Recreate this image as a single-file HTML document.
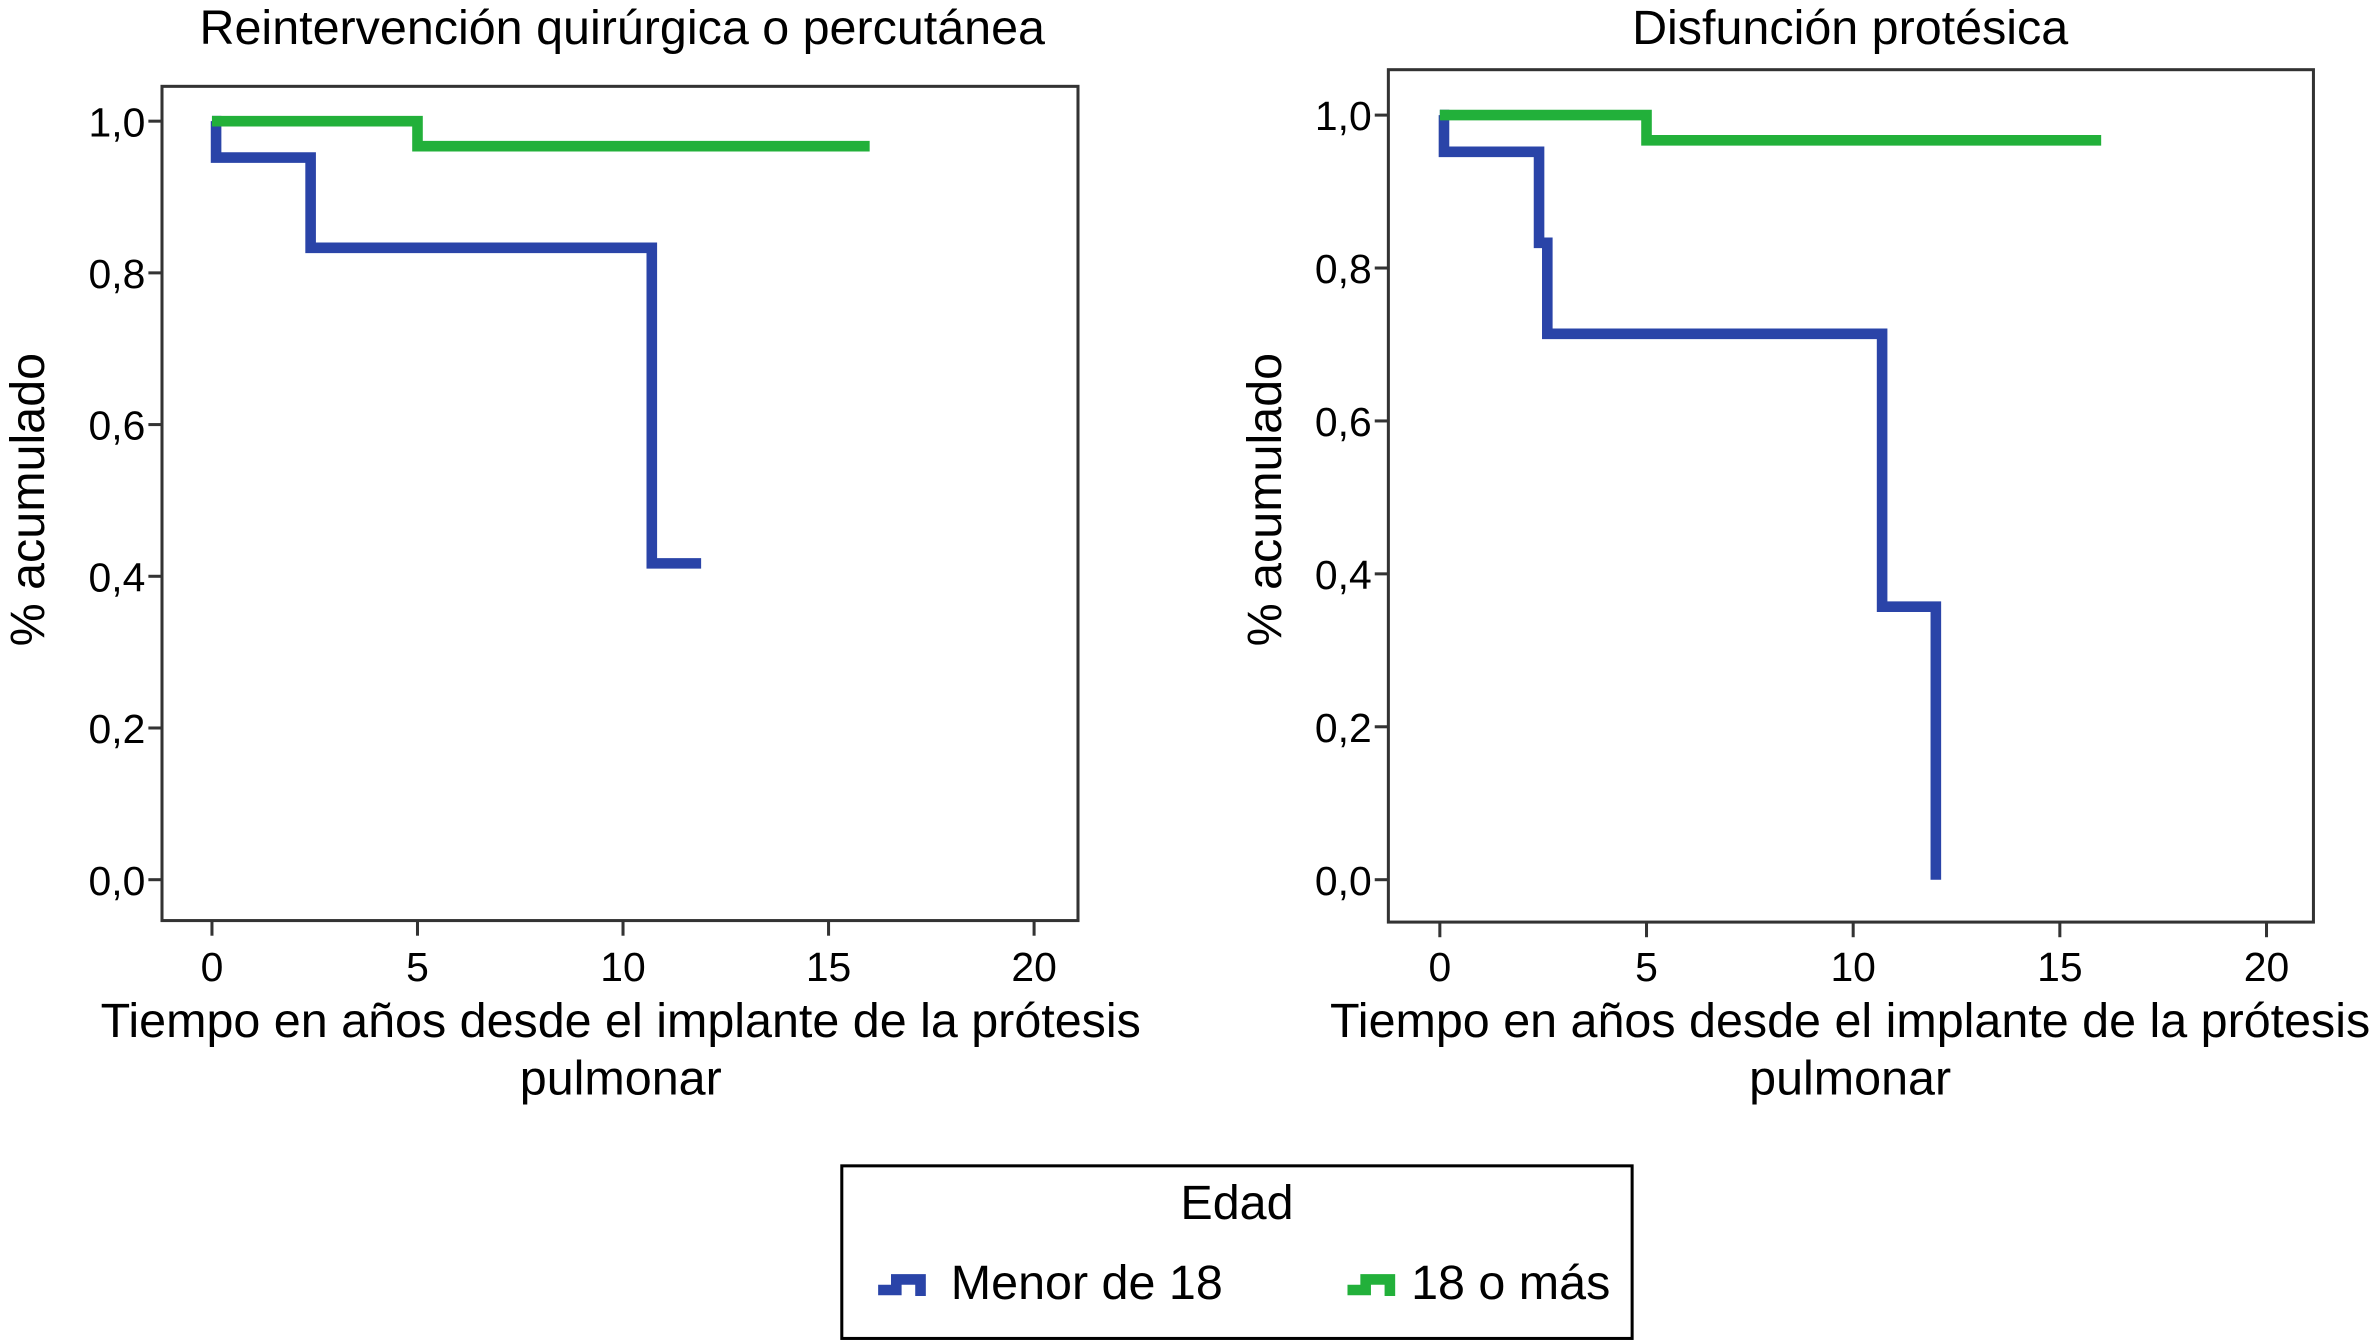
<!DOCTYPE html>
<html><head><meta charset="utf-8"><style>
html,body{margin:0;padding:0;background:#fff;}
svg{display:block;font-family:"Liberation Sans",sans-serif;}
</style></head><body>
<svg id="fig" width="2374" height="1340" viewBox="0 0 1568 885" xmlns="http://www.w3.org/2000/svg">
<g>
<rect x="556" y="770" width="522" height="114" fill="#fff" stroke="#000" stroke-width="2"/>
<text x="817" y="805" font-size="32" text-anchor="middle">Edad</text>
<g>
<path d="M580 852 H592 V845 H608 V856" fill="none" stroke="#2a44a8" stroke-width="7"/>
<text x="628" y="858" font-size="32">Menor de 18</text>
</g>
<g>
<path d="M890 852 H902 V845 H918 V856" fill="none" stroke="#22b03a" stroke-width="7"/>
<text x="932" y="858" font-size="32">18 o más</text>
</g>
</g>
</svg>
<script>
const xTicks = [0,5,10,15,20];
const yTicks = [0,0.2,0.4,0.6,0.8,1.0];
const yTickLabels = ["0,0","0,2","0,4","0,6","0,8","1,0"];
const titles = ["Reintervención quirúrgica o percutánea","Disfunción protésica"];
// Panel 1 series: step times and survival values
const p1BlueTimes = [0,0.1,2.4,10.7,11.9];
const p1BlueVals = [1.0,0.952,0.833,0.417,0.417];
const p1GreenTimes = [0,5.0,16.0];
const p1GreenVals = [1.0,0.967,0.967];
// Panel 2 series
const p2BlueTimes = [0,0.1,2.4,2.6,10.7,12.0,12.0];
const p2BlueVals = [1.0,0.952,0.833,0.714,0.357,0.0,0.0];
const p2GreenTimes = [0,5.0,16.0];
const p2GreenVals = [1.0,0.967,0.967];

const NS="http://www.w3.org/2000/svg";
const svg=document.getElementById('fig');
function mk(tag,attrs,parent){const e=document.createElementNS(NS,tag);for(const k in attrs)e.setAttribute(k,attrs[k]);parent.appendChild(e);return e;}

const panels=[
 {fx0:107,fx1:712,fy0:57,fy1:608,x0:140,x20:683,y1:80,y0:581,cx:410,ytx:18,series:[[p1BlueTimes,p1BlueVals,'#2a44a8','blue'],[p1GreenTimes,p1GreenVals,'#22b03a','green']]},
 {fx0:917,fx1:1528,fy0:46,fy1:609,x0:951,x20:1497,y1:76,y0:581,cx:1222,ytx:835,series:[[p2BlueTimes,p2BlueVals,'#2a44a8','blue'],[p2GreenTimes,p2GreenVals,'#22b03a','green']]}
];
panels.forEach((p,i)=>{
 const g=mk('g',{},svg);
 
 
 const X=t=>p.x0+(p.x20-p.x0)*t/20;
 const Y=v=>p.y0+(p.y1-p.y0)*v;
 const title=mk('text',{x:(i===0?411:1222),y:29,'font-size':32,'text-anchor':'middle'},g);
 title.textContent=titles[i];
 
 
 const fr=mk('rect',{x:p.fx0,y:p.fy0,width:p.fx1-p.fx0,height:p.fy1-p.fy0,fill:'none',stroke:'#333','stroke-width':2},g);
 
 
 yTicks.forEach((v,j)=>{
  const tk=mk('line',{x1:p.fx0-9,x2:p.fx0,y1:Y(v),y2:Y(v),stroke:'#333','stroke-width':2},g);
  
  
  const t=mk('text',{x:p.fx0-11,y:Y(v)+10,'font-size':27,'text-anchor':'end'},g);
  t.textContent=yTickLabels[j];
  
  
 });
 xTicks.forEach(v=>{
  const tk=mk('line',{x1:X(v),x2:X(v),y1:p.fy1,y2:p.fy1+10,stroke:'#333','stroke-width':2},g);
  
  
  const t=mk('text',{x:X(v),y:648,'font-size':27,'text-anchor':'middle'},g);
  t.textContent=String(v);
  
  
 });
 const xt=mk('text',{x:p.cx,y:685,'font-size':32,'text-anchor':'middle'},g);
 xt.textContent='Tiempo en años desde el implante de la prótesis';
 
 
 const xt2=mk('text',{x:p.cx,y:723,'font-size':32,'text-anchor':'middle'},g);
 xt2.textContent='pulmonar';
 
 
 const yt=mk('text',{x:0,y:0,'font-size':32,'text-anchor':'middle',transform:`translate(${p.ytx+11},330) rotate(-90)`},g);
 yt.textContent='% acumulado';
 
 
 p.series.forEach(s=>{
  const [ts,vs,col,nm]=s;
  let d=`M${X(ts[0])} ${Y(vs[0])}`;
  for(let k=1;k<ts.length;k++){d+=` H${X(ts[k])} V${Y(vs[k])}`;}
  const path=mk('path',{d:d,fill:'none',stroke:col,'stroke-width':7},g);
  
  
 });
});
</script>
</body></html>
